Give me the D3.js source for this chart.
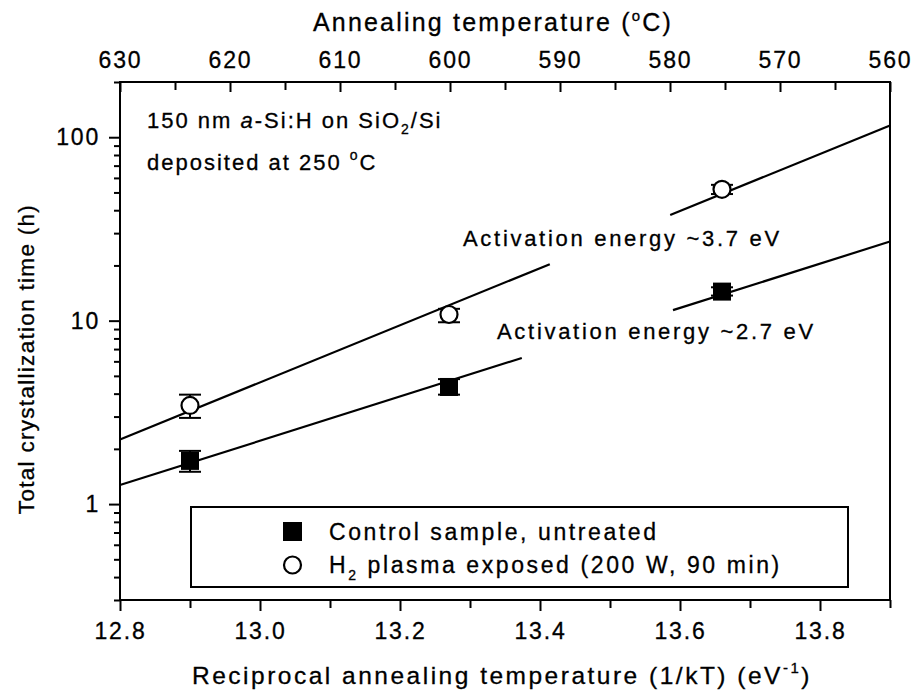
<!DOCTYPE html>
<html>
<head>
<meta charset="utf-8">
<script src="https://cdn.jsdelivr.net/npm/d3@7"></script>
<style>
  body { margin: 0; background: #fff; }
  svg text { font-family: "Liberation Sans", Arial, sans-serif; fill: #000; stroke: #000; stroke-width: 0.3px; }
</style>
</head>
<body>
<svg id="chart" width="912" height="698"></svg>
<script>
// reciprocal temperature 1/kT (eV^-1)
const recipT = [12.9, 13.27, 13.66];

// control sample, untreated (h) with error bar limits
const controlTime = [1.72, 4.35, 14.4];
const controlLow = [1.5, 3.95, 13.7];
const controlHigh = [1.95, 4.8, 15.2];

// H2 plasma exposed (h)
const plasmaTime = [3.45, 10.8, 52];
const plasmaLow = [2.95, 9.8, 49];
const plasmaHigh = [3.95, 11.6, 55];

// fitted lines: value at the left and right edge, and gap left for the label
const fitEdges = [12.8, 13.9];
const fitPlasma = [2.25, 116];
const fitControl = [1.27, 27];
const gapPlasma = [13.414, 13.586];
const gapControl = [13.374, 13.59];

const xTicks = [12.8, 13.0, 13.2, 13.4, 13.6, 13.8];
const xMinor = [12.9, 13.1, 13.3, 13.5, 13.7, 13.9];
const topTicks = [630, 620, 610, 600, 590, 580, 570, 560];
const yTicks = [1, 10, 100];

const width = 912, height = 698;
const margin = { left: 120, right: 22, top: 82, bottom: 98 };
const x0 = margin.left, x1 = width - margin.right;
const y0 = height - margin.bottom, y1 = margin.top;

const svg = d3.select("#chart");

const xScale = d3.scaleLinear().domain([12.8, 13.9]).range([x0, x1]);
const tScale = d3.scaleLinear().domain([630, 560]).range([x0, x1]);
const yScale = d3.scaleLog().domain([0.3, 200]).range([y0, y1]);

const tickFont = "23px";
const spacing = "1.8px";

// frame
svg.append("rect")
  .attr("x", x0).attr("y", y1)
  .attr("width", x1 - x0).attr("height", y0 - y1)
  .attr("fill", "none").attr("stroke", "#000").attr("stroke-width", 2);

// bottom axis
svg.append("g")
  .attr("transform", `translate(0, ${y0})`)
  .call(d3.axisBottom(xScale).tickValues(xTicks).tickFormat(d3.format(".1f"))
    .tickSize(11).tickPadding(12));
svg.append("g")
  .attr("transform", `translate(0, ${y0})`)
  .call(d3.axisBottom(xScale).tickValues(xMinor).tickFormat("").tickSize(8));

// top axis (inward ticks)
const topMinor = d3.range(625, 560, -10);
svg.append("g")
  .attr("transform", `translate(0, ${y1})`)
  .call(d3.axisTop(tScale).tickValues(topTicks).tickFormat(d3.format("d"))
    .tickSize(-10).tickPadding(14));
svg.append("g")
  .attr("transform", `translate(0, ${y1})`)
  .call(d3.axisTop(tScale).tickValues(topMinor).tickFormat("").tickSize(-8));

// left axis
const minorY = [];
[0.1, 1, 10, 100].forEach((dec) => {
  d3.range(2, 10).forEach((m) => {
    const v = dec * m;
    if (v >= 0.3 && v <= 200) minorY.push(v);
  });
});
svg.append("g")
  .attr("transform", `translate(${x0}, 0)`)
  .call(d3.axisLeft(yScale).tickValues(yTicks).tickFormat(d3.format("d"))
    .tickSize(11).tickPadding(9));
svg.append("g")
  .attr("transform", `translate(${x0}, 0)`)
  .call(d3.axisLeft(yScale).tickValues(minorY).tickFormat("").tickSize(6));

svg.selectAll(".domain").remove();
svg.selectAll(".tick line").attr("stroke", "#000").attr("stroke-width", 2);
svg.selectAll(".tick text")
  .attr("fill", "#000")
  .style("font-size", tickFont)
  .style("letter-spacing", spacing)
  .style("font-family", "'Liberation Sans', Arial, sans-serif");

// axis titles
const xTitle = svg.append("text")
  .attr("x", (x0 + x1) / 2 - 3).attr("y", 684)
  .attr("text-anchor", "middle")
  .style("font-size", "24.5px").style("letter-spacing", "2.5px");
xTitle.append("tspan").text("Reciprocal annealing temperature (1/kT) (eV");
xTitle.append("tspan").attr("dy", -11).style("font-size", "15px").text("-1");
xTitle.append("tspan").attr("dy", 11).text(")");

const tTitle = svg.append("text")
  .attr("x", (x0 + x1) / 2 - 12).attr("y", 31)
  .attr("text-anchor", "middle")
  .style("font-size", "25px").style("letter-spacing", "2.2px");
tTitle.append("tspan").text("Annealing temperature (");
tTitle.append("tspan").attr("dy", -10).style("font-size", "15px").text("o");
tTitle.append("tspan").attr("dy", 10).text("C)");

svg.append("text")
  .attr("transform", `translate(34, ${(y0 + y1) / 2 + 18}) rotate(-90)`)
  .attr("text-anchor", "middle")
  .style("font-size", "22.5px").style("letter-spacing", "1.3px")
  .text("Total crystallization time (h)");

// fit lines with a gap for the label
const line = d3.line()
  .x((d) => xScale(d[0]))
  .y((d) => yScale(d[1]));

function fitValue(edges, vals, xv) {
  const t = (xv - edges[0]) / (edges[1] - edges[0]);
  return Math.exp(Math.log(vals[0]) + t * (Math.log(vals[1]) - Math.log(vals[0])));
}

function fitSegments(vals, gap) {
  return [
    [fitEdges[0], gap[0]],
    [gap[1], fitEdges[1]],
  ].map((seg) => seg.map((xv) => [xv, fitValue(fitEdges, vals, xv)]));
}

[[fitPlasma, gapPlasma], [fitControl, gapControl]].forEach(([vals, gap]) => {
  svg.append("g")
    .selectAll("path")
    .data(fitSegments(vals, gap))
    .enter()
    .append("path")
    .attr("d", line)
    .attr("fill", "none")
    .attr("stroke", "#000")
    .attr("stroke-width", 2.2);
});

// error bars
function errorBars(lows, highs, capW) {
  const g = svg.append("g").attr("stroke", "#000").attr("stroke-width", 2);
  recipT.forEach((xv, i) => {
    const cx = xScale(xv);
    g.append("line").attr("x1", cx).attr("x2", cx)
      .attr("y1", yScale(lows[i])).attr("y2", yScale(highs[i]));
    [lows[i], highs[i]].forEach((v) => {
      g.append("line")
        .attr("x1", cx - capW / 2).attr("x2", cx + capW / 2)
        .attr("y1", yScale(v)).attr("y2", yScale(v));
    });
  });
}
errorBars(controlLow, controlHigh, 22);
errorBars(plasmaLow, plasmaHigh, 22);

const sq = 18;
svg.append("g")
  .selectAll("rect")
  .data(recipT.map((xv, i) => [xv, controlTime[i]]))
  .enter()
  .append("rect")
  .attr("x", (d) => xScale(d[0]) - sq / 2)
  .attr("y", (d) => yScale(d[1]) - sq / 2)
  .attr("width", sq).attr("height", sq)
  .attr("fill", "#000");

svg.append("g")
  .selectAll("circle")
  .data(recipT.map((xv, i) => [xv, plasmaTime[i]]))
  .enter()
  .append("circle")
  .attr("cx", (d) => xScale(d[0]))
  .attr("cy", (d) => yScale(d[1]))
  .attr("r", 8.5)
  .attr("fill", "#fff")
  .attr("stroke", "#000")
  .attr("stroke-width", 2.2);

// annotations
const note = svg.append("g").style("font-size", "22px").style("letter-spacing", "2px");
const n1 = note.append("text").attr("x", 147).attr("y", 128);
n1.append("tspan").text("150 nm ");
n1.append("tspan").style("font-style", "italic").text("a");
n1.append("tspan").text("-Si:H on SiO");
n1.append("tspan").attr("dy", 6).style("font-size", "14px").text("2");
n1.append("tspan").attr("dy", -6).text("/Si");
const n2 = note.append("text").attr("x", 147).attr("y", 170);
n2.append("tspan").text("deposited at 250 ");
n2.append("tspan").attr("dy", -10).style("font-size", "14px").text("o");
n2.append("tspan").attr("dy", 10).text("C");

svg.append("text")
  .attr("x", 463).attr("y", 246)
  .style("font-size", "22px").style("letter-spacing", "2.7px")
  .text("Activation energy ~3.7 eV");
svg.append("text")
  .attr("x", 497).attr("y", 339)
  .style("font-size", "22px").style("letter-spacing", "2.7px")
  .text("Activation energy ~2.7 eV");

// legend
const legend = svg.append("g").attr("transform", "translate(191, 507)");
legend.append("rect")
  .attr("width", 657).attr("height", 80)
  .attr("fill", "#fff").attr("stroke", "#000").attr("stroke-width", 2);
legend.append("rect")
  .attr("x", 92).attr("y", 15).attr("width", 19).attr("height", 19)
  .attr("fill", "#000");
legend.append("circle")
  .attr("cx", 101.5).attr("cy", 58).attr("r", 8.5)
  .attr("fill", "#fff").attr("stroke", "#000").attr("stroke-width", 2.2);
legend.append("text")
  .attr("x", 138).attr("y", 33)
  .style("font-size", "23px").style("letter-spacing", "2.6px")
  .text("Control sample, untreated");
const l2 = legend.append("text")
  .attr("x", 138).attr("y", 66)
  .style("font-size", "23px").style("letter-spacing", "2.6px");
l2.append("tspan").text("H");
l2.append("tspan").attr("dy", 7).style("font-size", "14px").text("2");
l2.append("tspan").attr("dy", -7).text(" plasma exposed (200 W, 90 min)");
</script>
</body>
</html>
